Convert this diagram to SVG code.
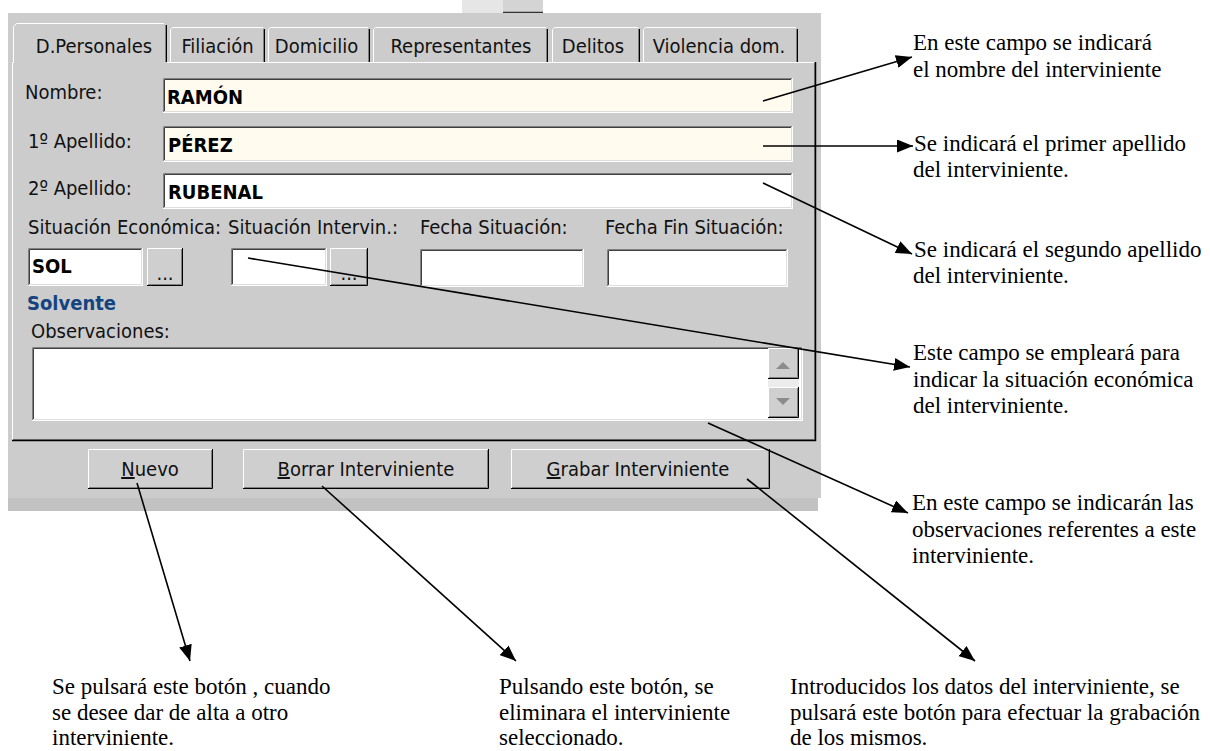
<svg xmlns="http://www.w3.org/2000/svg" width="1210" height="751" viewBox="0 0 1210 751">
  <defs>
    <style>
      .ui { font-family: 'DejaVu Sans Condensed', 'DejaVu Sans', sans-serif; font-stretch: condensed; font-size: 20px; fill: #111; }
      .val { font-weight: bold; fill: #000; }
      .blue { font-weight: bold; fill: #14447f; }
      .note { font-family: 'Liberation Serif', 'Times New Roman', serif; font-size: 23px; fill: #000; white-space: pre; }
      .hi { stroke: #ffffff; fill: none; }
      .lo { stroke: #808080; fill: none; }
      .dk { stroke: #000000; fill: none; }
      .sk1 { stroke: #808080; fill: none; }
      .sk2 { stroke: #404040; fill: none; }
      .sk3 { stroke: #ffffff; fill: none; }
      .sk4 { stroke: #dedede; fill: none; }
      .btn { fill: #cfcfcf; }
      .lead { stroke: #000; stroke-width: 1.6; fill: none; marker-end: url(#tip); }
    </style>
    <marker id="tip" markerUnits="userSpaceOnUse" markerWidth="17" markerHeight="13" refX="16" refY="6.5" orient="auto">
      <path d="M0,0 L16,6.5 L0,13 z" fill="#000"/>
    </marker>
  </defs>

  <rect width="1210" height="751" fill="#ffffff"/>

  <!-- window background -->
  <g id="ventana">
    <rect x="462" y="0" width="41" height="13" fill="#e6e6e6"/>
    <rect x="503" y="0" width="40" height="13" fill="#d4d4d4"/>
    <path d="M503 12.5 H543" stroke="#333" stroke-width="1.5"/>
    <rect x="8" y="13" width="813" height="485" fill="#cccccc"/>
    <rect x="8" y="498" width="810" height="13" fill="#c2c2c2"/>
  </g>

  <!-- tab strip -->
  <g id="pestanas" class="ui">
    <g id="tab-filiacion">
      <rect x="170" y="27" width="95" height="35" fill="#cccccc"/>
      <path class="hi" d="M170.5 62 V29.5 L172.5 27.5 H263"/>
      <path class="lo" d="M263.5 29 V62"/>
      <path class="dk" d="M264.5 29 V62"/>
      <text x="217.5" y="53" text-anchor="middle">Filiación</text>
    </g>
    <g id="tab-domicilio">
      <rect x="268" y="27" width="102" height="35" fill="#cccccc"/>
      <path class="hi" d="M268.5 62 V29.5 L270.5 27.5 H368"/>
      <path class="lo" d="M368.5 29 V62"/>
      <path class="dk" d="M369.5 29 V62"/>
      <text x="316.5" y="53" text-anchor="middle">Domicilio</text>
    </g>
    <g id="tab-representantes">
      <rect x="373" y="27" width="175" height="35" fill="#cccccc"/>
      <path class="hi" d="M373.5 62 V29.5 L375.5 27.5 H546"/>
      <path class="lo" d="M546.5 29 V62"/>
      <path class="dk" d="M547.5 29 V62"/>
      <text x="461" y="53" text-anchor="middle">Representantes</text>
    </g>
    <g id="tab-delitos">
      <rect x="552" y="27" width="88" height="35" fill="#cccccc"/>
      <path class="hi" d="M552.5 62 V29.5 L554.5 27.5 H638"/>
      <path class="lo" d="M638.5 29 V62"/>
      <path class="dk" d="M639.5 29 V62"/>
      <text x="593" y="53" text-anchor="middle">Delitos</text>
    </g>
    <g id="tab-violencia">
      <rect x="643" y="27" width="155" height="35" fill="#cccccc"/>
      <path class="hi" d="M643.5 62 V29.5 L645.5 27.5 H796"/>
      <path class="lo" d="M796.5 29 V62"/>
      <path class="dk" d="M797.5 29 V62"/>
      <text x="719" y="53" text-anchor="middle">Violencia dom.</text>
    </g>
  </g>

  <!-- tab page -->
  <g id="panel">
    <rect x="12" y="62" width="804" height="379" fill="#cccccc"/>
    <path class="hi" d="M12.5 440 V62.5 H13 M167 62.5 H814"/>
    <path class="lo" d="M814.5 63 V439.5 H13"/>
    <path class="dk" d="M815.5 62 V440.5 H12" stroke-width="1.5"/>
  </g>

  <g id="tab-dpersonales" class="ui">
    <rect x="13" y="23" width="154" height="41" fill="#cccccc"/>
    <path class="hi" d="M13.5 63 V26.5 L16.5 23.5 H164"/>
    <path class="lo" d="M165.5 25 V62"/>
    <path class="dk" d="M166.5 25 V62"/>
    <text x="94" y="53" text-anchor="middle">D.Personales</text>
  </g>

  <!-- name fields -->
  <g id="campo-nombre" class="ui">
    <text x="25" y="99">Nombre:</text>
    <rect x="163" y="78" width="630" height="35" fill="#fffbef"/>
    <path class="sk1" d="M163.5 112 V78.5 H792"/>
    <path class="sk2" d="M164.5 111 V79.5 H791"/>
    <path class="sk3" d="M163 112.5 H792.5 V78"/>
    <path class="sk4" d="M164 111.5 H791.5 V79"/>
    <text class="val" x="167" y="104">RAMÓN</text>
  </g>

  <g id="campo-apellido1" class="ui">
    <text x="28" y="148">1º Apellido:</text>
    <rect x="163" y="126" width="630" height="36" fill="#fffbef"/>
    <path class="sk1" d="M163.5 161 V126.5 H792"/>
    <path class="sk2" d="M164.5 160 V127.5 H791"/>
    <path class="sk3" d="M163 161.5 H792.5 V126"/>
    <path class="sk4" d="M164 160.5 H791.5 V127"/>
    <text class="val" x="168" y="152">PÉREZ</text>
  </g>

  <g id="campo-apellido2" class="ui">
    <text x="28" y="195">2º Apellido:</text>
    <rect x="163" y="173" width="630" height="36" fill="#ffffff"/>
    <path class="sk1" d="M163.5 208 V173.5 H792"/>
    <path class="sk2" d="M164.5 207 V174.5 H791"/>
    <path class="sk3" d="M163 208.5 H792.5 V173"/>
    <path class="sk4" d="M164 207.5 H791.5 V174"/>
    <text class="val" x="168" y="199">RUBENAL</text>
  </g>

  <!-- situation row -->
  <g id="campo-sit-economica" class="ui">
    <text x="28" y="234">Situación Económica:</text>
    <rect x="28" y="248" width="115" height="38" fill="#ffffff"/>
    <path class="sk1" d="M28.5 285 V248.5 H142"/>
    <path class="sk2" d="M29.5 284 V249.5 H141"/>
    <path class="sk3" d="M28 285.5 H142.5 V248"/>
    <path class="sk4" d="M29 284.5 H141.5 V249"/>
    <text class="val" x="32" y="273">SOL</text>
    <rect class="btn" x="147" y="248" width="36" height="38"/>
    <path class="hi" d="M147.5 285 V248.5 H182"/>
    <path class="lo" d="M148 284.5 H181.5 V249"/>
    <path class="dk" d="M147 285.5 H182.5 V248"/>
    <text x="165" y="280" text-anchor="middle">...</text>
  </g>

  <g id="campo-sit-intervin" class="ui">
    <text x="228" y="234">Situación Intervin.:</text>
    <rect x="231" y="248" width="96" height="38" fill="#ffffff"/>
    <path class="sk1" d="M231.5 285 V248.5 H326"/>
    <path class="sk2" d="M232.5 284 V249.5 H325"/>
    <path class="sk3" d="M231 285.5 H326.5 V248"/>
    <path class="sk4" d="M232 284.5 H325.5 V249"/>
    <rect class="btn" x="330" y="248" width="38" height="38"/>
    <path class="hi" d="M330.5 285 V248.5 H367"/>
    <path class="lo" d="M331 284.5 H366.5 V249"/>
    <path class="dk" d="M330 285.5 H367.5 V248"/>
    <text x="349" y="280" text-anchor="middle">...</text>
  </g>

  <g id="campo-fecha-sit" class="ui">
    <text x="420" y="234">Fecha Situación:</text>
    <rect x="420" y="249" width="164" height="38" fill="#ffffff"/>
    <path class="sk1" d="M420.5 286 V249.5 H583"/>
    <path class="sk2" d="M421.5 285 V250.5 H582"/>
    <path class="sk3" d="M420 286.5 H583.5 V249"/>
    <path class="sk4" d="M421 285.5 H582.5 V250"/>
  </g>

  <g id="campo-fecha-fin" class="ui">
    <text x="605" y="234">Fecha Fin Situación:</text>
    <rect x="607" y="249" width="181" height="38" fill="#ffffff"/>
    <path class="sk1" d="M607.5 286 V249.5 H787"/>
    <path class="sk2" d="M608.5 285 V250.5 H786"/>
    <path class="sk3" d="M607 286.5 H787.5 V249"/>
    <path class="sk4" d="M608 285.5 H786.5 V250"/>
  </g>

  <text id="solvente" class="ui blue" x="27" y="310">Solvente</text>

  <!-- notes box -->
  <g id="campo-observaciones" class="ui">
    <text x="31" y="338">Observaciones:</text>
    <rect x="32" y="347" width="771" height="74" fill="#ffffff"/>
    <path class="sk1" d="M32.5 420 V347.5 H802"/>
    <path class="sk2" d="M33.5 419 V348.5 H801"/>
    <path class="sk3" d="M32 420.5 H802.5 V347"/>
    <path class="sk4" d="M33 419.5 H801.5 V348"/>
    <rect x="768" y="348" width="31" height="71" fill="#ececec"/>
    <rect class="btn" x="768" y="348" width="31" height="31"/>
    <path class="hi" d="M768.5 378 V348.5 H798"/>
    <path class="lo" d="M769 377.5 H797.5 V349"/>
    <path class="dk" d="M768 378.5 H798.5 V348"/>
    <path d="M776 369 L790 369 L783 362 z" fill="#8c8c8c"/>
    <rect class="btn" x="768" y="387" width="31" height="31"/>
    <path class="hi" d="M768.5 417 V387.5 H798"/>
    <path class="lo" d="M769 416.5 H797.5 V388"/>
    <path class="dk" d="M768 417.5 H798.5 V387"/>
    <path d="M776 398 L790 398 L783 405 z" fill="#8c8c8c"/>
  </g>

  <!-- command buttons -->
  <g id="btn-nuevo" class="ui">
    <rect class="btn" x="88" y="449" width="125" height="40"/>
    <path class="hi" d="M88.5 488 V449.5 H212"/>
    <path class="lo" d="M89 487.5 H211.5 V450"/>
    <path class="dk" d="M88 488.5 H212.5 V449"/>
    <text x="150" y="476" text-anchor="middle"><tspan text-decoration="underline">N</tspan>uevo</text>
  </g>
  <g id="btn-borrar" class="ui">
    <rect class="btn" x="243" y="449" width="246" height="40"/>
    <path class="hi" d="M243.5 488 V449.5 H488"/>
    <path class="lo" d="M244 487.5 H487.5 V450"/>
    <path class="dk" d="M243 488.5 H488.5 V449"/>
    <text x="366" y="476" text-anchor="middle"><tspan text-decoration="underline">B</tspan>orrar Interviniente</text>
  </g>
  <g id="btn-grabar" class="ui">
    <rect class="btn" x="511" y="449" width="259" height="40"/>
    <path class="hi" d="M511.5 488 V449.5 H769"/>
    <path class="lo" d="M512 487.5 H768.5 V450"/>
    <path class="dk" d="M511 488.5 H769.5 V449"/>
    <text x="638" y="476" text-anchor="middle"><tspan text-decoration="underline">G</tspan>rabar Interviniente</text>
  </g>

  <!-- leader lines -->
  <g id="conectores">
    <path class="lead" d="M763 101 L912 57"/>
    <path class="lead" d="M763 146 L913 146"/>
    <path class="lead" d="M763 183 L912 254"/>
    <path class="lead" d="M248 258 L910 367"/>
    <path class="lead" d="M708 423 L908 513"/>
    <path class="lead" d="M137 483 L190 661"/>
    <path class="lead" d="M322 486 L516 661"/>
    <path class="lead" d="M747 479 L975 661"/>
  </g>

  <!-- explanatory notes -->
  <g id="nota-nombre" class="note">
    <text x="913" y="50">En este campo se indicará</text>
    <text x="913" y="77">el nombre del interviniente</text>
  </g>
  <g id="nota-apellido1" class="note">
    <text x="914" y="151">Se indicará el primer apellido</text>
    <text x="913" y="177">del interviniente.</text>
  </g>
  <g id="nota-apellido2" class="note">
    <text x="914" y="257">Se indicará el segundo apellido</text>
    <text x="913" y="283">del interviniente.</text>
  </g>
  <g id="nota-situacion" class="note">
    <text x="913" y="360">Este campo se empleará para</text>
    <text x="913" y="387">indicar la situación económica</text>
    <text x="913" y="413">del interviniente.</text>
  </g>
  <g id="nota-observaciones" class="note">
    <text x="912" y="510">En este campo se indicarán las</text>
    <text x="912" y="537">observaciones referentes a este</text>
    <text x="912" y="563">interviniente.</text>
  </g>
  <g id="nota-nuevo" class="note">
    <text x="52" y="694">Se pulsará este botón , cuando</text>
    <text x="52" y="720">se desee dar de alta a  otro</text>
    <text x="52" y="745">interviniente.</text>
  </g>
  <g id="nota-borrar" class="note">
    <text x="499" y="694">Pulsando este botón, se</text>
    <text x="499" y="720">eliminara el interviniente</text>
    <text x="499" y="745">seleccionado.</text>
  </g>
  <g id="nota-grabar" class="note">
    <text x="790" y="694">Introducidos los datos del interviniente, se</text>
    <text x="790" y="720">pulsará este botón para efectuar la grabación</text>
    <text x="790" y="745">de los mismos.</text>
  </g>
</svg>
